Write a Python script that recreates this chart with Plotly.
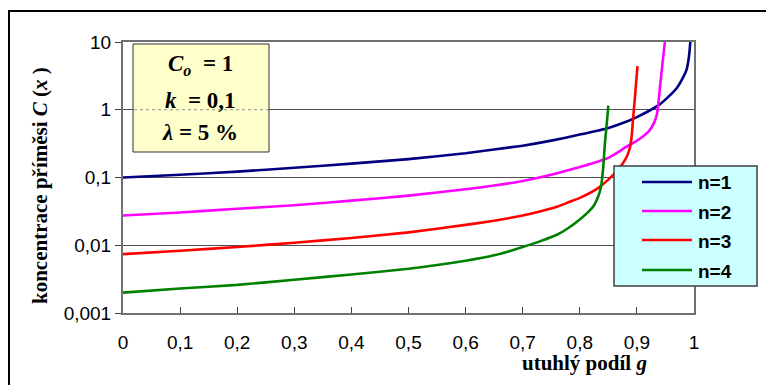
import plotly.graph_objects as go

# --- data -----------------------------------------------------------------
series_names = ["n=1", "n=2", "n=3", "n=4"]
series_colors = ["#000080", "#FF00FF", "#FF0000", "#008000"]

g_n1 = [0, 0.1, 0.2, 0.3, 0.4, 0.5, 0.6, 0.7, 0.75, 0.8, 0.85, 0.88, 0.9,
        0.92, 0.94, 0.955, 0.97, 0.98, 0.987, 0.99, 0.992, 0.9935]
c_n1 = [0.1, 0.11, 0.122, 0.139, 0.16, 0.187, 0.228, 0.295, 0.35, 0.43,
        0.54, 0.66, 0.78, 0.95, 1.2, 1.55, 2.1, 2.9, 3.9, 5.2, 7.0, 10.0]

g_n2 = [0, 0.1, 0.2, 0.3, 0.4, 0.5, 0.6, 0.65, 0.7, 0.75, 0.8, 0.82, 0.85,
        0.87, 0.88, 0.89, 0.91, 0.92, 0.93, 0.935, 0.9375, 0.94, 0.945, 0.949]
c_n2 = [0.0275, 0.0305, 0.0345, 0.039, 0.0455, 0.054, 0.067, 0.076, 0.089,
        0.110, 0.143, 0.160, 0.195, 0.245, 0.28, 0.31, 0.40, 0.47, 0.64,
        0.86, 1.2, 2.0, 5.0, 10.0]

g_n3 = [0, 0.1, 0.2, 0.3, 0.4, 0.5, 0.6, 0.65, 0.7, 0.73, 0.76, 0.78, 0.8,
        0.83, 0.85, 0.865, 0.875, 0.883, 0.888, 0.891, 0.893, 0.897, 0.901]
c_n3 = [0.0074, 0.0083, 0.0094, 0.0109, 0.0128, 0.0155, 0.020, 0.023, 0.0275,
        0.0315, 0.037, 0.043, 0.050, 0.068, 0.093, 0.125, 0.16, 0.21, 0.28,
        0.42, 0.68, 1.7, 4.4]

g_n4 = [0, 0.1, 0.2, 0.3, 0.4, 0.5, 0.55, 0.6, 0.65, 0.675, 0.7, 0.73, 0.76,
        0.78, 0.8, 0.815, 0.825, 0.832, 0.837, 0.841, 0.844, 0.847, 0.85]
c_n4 = [0.002, 0.0023, 0.0026, 0.0031, 0.0037, 0.0045, 0.0051, 0.0059, 0.0071,
        0.0081, 0.0094, 0.0114, 0.0143, 0.018, 0.024, 0.031, 0.039, 0.052,
        0.072, 0.14, 0.32, 0.6, 1.15]

x_ticks = [0, 0.1, 0.2, 0.3, 0.4, 0.5, 0.6, 0.7, 0.8, 0.9, 1]
x_tick_labels = ["0", "0,1", "0,2", "0,3", "0,4", "0,5", "0,6", "0,7", "0,8", "0,9", "1"]
y_ticks = [0.001, 0.01, 0.1, 1, 10]
y_tick_labels = ["0,001", "0,01", "0,1", "1", "10"]

params_text = ["<i>C</i><sub><i>o</i></sub>  = 1", "<i>k</i>  = 0,1", "<i>λ</i> = 5 %"]

# --- figure geometry (pixels) ---------------------------------------------
W, H = 766, 385
L, R, T, B = 123, 694, 42, 313


def px(xp):
    return (xp - L) / (R - L)


def py(yp):
    return 1 - (yp - T) / (B - T)


SERIF = "Liberation Serif, Times New Roman, serif"
SANS = "Liberation Sans, Arial, sans-serif"

fig = go.Figure()
for name, color, gx, cy in zip(series_names, series_colors,
                               [g_n1, g_n2, g_n3, g_n4],
                               [c_n1, c_n2, c_n3, c_n4]):
    fig.add_trace(go.Scatter(x=gx, y=cy, mode="lines", name=name,
                             line=dict(color=color, width=2.6, shape="spline",
                                       smoothing=0.4),
                             showlegend=False))

fig.update_layout(
    width=W, height=H,
    margin=dict(l=L, r=W - R, t=T, b=H - B, pad=0),
    paper_bgcolor="white", plot_bgcolor="white",
    xaxis=dict(range=[0, 1], tickvals=x_ticks, ticktext=x_tick_labels,
               ticks="inside", ticklen=6, tickwidth=1, tickcolor="#404040",
               showline=True, linecolor="#707070", linewidth=2, mirror=True,
               showgrid=False, zeroline=False, ticklabelstandoff=11,
               tickfont=dict(family=SANS, size=19, color="black")),
    yaxis=dict(type="log", range=[-3, 1], tickvals=y_ticks, ticktext=y_tick_labels,
               ticks="outside", ticklen=6, tickwidth=1, tickcolor="#404040",
               showline=True, linecolor="#707070", linewidth=2, mirror=True,
               showgrid=True, gridcolor="#505050", gridwidth=1, zeroline=False,
               tickfont=dict(family=SANS, size=19, color="black")),
)

shapes = []
# outer chart frame
shapes.append(dict(type="rect", xref="paper", yref="paper",
                   x0=px(9), x1=px(775), y0=py(11), y1=py(395),
                   line=dict(color="black", width=2), fillcolor="rgba(0,0,0,0)"))
# parameter box
shapes.append(dict(type="rect", xref="paper", yref="paper",
                   x0=px(133), x1=px(269), y0=py(44), y1=py(152),
                   line=dict(color="#303030", width=1), fillcolor="#FFFFCC"))
shapes.append(dict(type="line", xref="paper", yref="y",
                   x0=px(134), x1=px(268), y0=1, y1=1,
                   line=dict(color="#909090", width=1, dash="dot")))
# legend box
shapes.append(dict(type="rect", xref="paper", yref="paper",
                   x0=px(614), x1=px(757), y0=py(166), y1=py(286),
                   line=dict(color="#404040", width=1.5), fillcolor="#CCFFFF"))

annotations = []
row_y = [182, 211, 240, 270]
for name, color, ry in zip(series_names, series_colors, row_y):
    shapes.append(dict(type="line", xref="paper", yref="paper",
                       x0=px(642), x1=px(692), y0=py(ry), y1=py(ry),
                       line=dict(color=color, width=2.6)))
    annotations.append(dict(xref="paper", yref="paper", x=px(696), y=py(ry + 1),
                            text=f"<b>{name}</b>", showarrow=False,
                            xanchor="left", yanchor="middle",
                            font=dict(family=SANS, size=19, color="black")))

for txt, ty in zip(params_text, [65, 100, 132]):
    annotations.append(dict(xref="paper", yref="paper", x=px(200), y=py(ty),
                            text=f"<b>{txt}</b>", showarrow=False,
                            xanchor="center", yanchor="middle",
                            font=dict(family=SERIF, size=23, color="black")))

# axis titles
annotations.append(dict(xref="paper", yref="paper", x=px(40), y=py(186),
                        text="<b>koncentrace příměsi <i>C</i> (<i>x</i> )</b>",
                        showarrow=False, textangle=-90,
                        xanchor="center", yanchor="middle",
                        font=dict(family=SERIF, size=21, color="black")))
annotations.append(dict(xref="paper", yref="paper", x=px(584), y=py(363),
                        text="<b>utuhlý podíl <i>g</i></b>",
                        showarrow=False, xanchor="center", yanchor="middle",
                        font=dict(family=SERIF, size=21, color="black")))

fig.update_layout(shapes=shapes, annotations=annotations)

fig.write_html("out.html")
